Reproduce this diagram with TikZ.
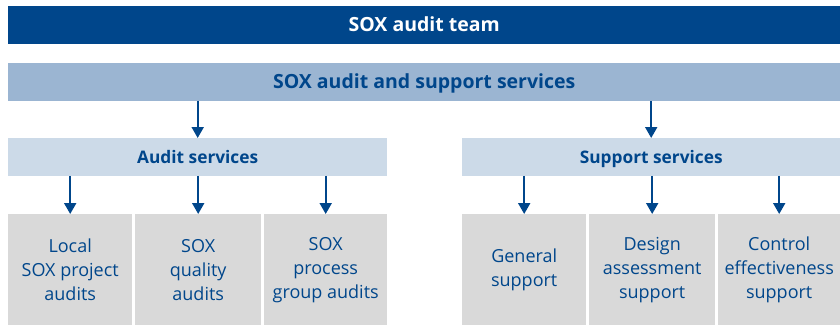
\documentclass[tikz,border=0pt]{standalone}
\usepackage{fontspec}
\setmainfont{Open Sans}
\usetikzlibrary{arrows.meta}
\definecolor{soxdark}{HTML}{00468B}
\definecolor{soxmid}{HTML}{9BB5D2}
\definecolor{soxlight}{HTML}{CCDAE8}
\definecolor{soxgray}{HTML}{D9D9D9}
\tikzset{
  bar/.style={anchor=north west, inner sep=0pt, minimum height=37.5pt, text height=17pt, text depth=3pt, font=\bfseries\fontsize{19.5}{22}\selectfont},
  subbar/.style={bar, fill=soxlight, text=soxdark, font=\bfseries\fontsize{17.3}{20}\selectfont},
  unit/.style={anchor=north west, inner sep=0pt, fill=soxgray, minimum height=111pt, text=soxdark, align=center, font=\fontsize{18}{24}\selectfont},
  down/.style={-{Triangle[width=12pt,length=11pt]}, draw=soxdark, line width=2pt}
}
\begin{document}
\begin{tikzpicture}[x=1pt, y=-1pt]
  \useasboundingbox (0,0) rectangle (840,325);
  \node[bar, fill=soxdark, text=white, minimum width=832pt] (team) at (8,6) {SOX audit team};
  \node[bar, fill=soxmid, text=soxdark, minimum width=832pt] (serv) at (8,63) {SOX audit and support services};
  \node[subbar, minimum width=379pt] (aud) at (8,138) {Audit services};
  \node[subbar, minimum width=378pt] (sup) at (462,138) {Support services};
  % audit units
  \node[unit, minimum width=124pt] (local) at (8,214) {Local\\SOX project\\audits};
  \node[unit, minimum width=126pt] (quality) at (135,214) {SOX\\quality\\audits};
  \node[unit, minimum width=123pt] (process) at (264,214) {SOX\\process\\group audits};
  % support units
  \node[unit, minimum width=124pt] (general) at (462,214) {General\\support};
  \node[unit, minimum width=126pt] (design) at (589,214) {Design\\assessment\\support};
  \node[unit, minimum width=122pt] (control) at (718,214) {Control\\effectiveness\\support};
  \draw[down] (serv.south -| aud.north) -- (aud.north);
  \draw[down] (serv.south -| sup.north) -- (sup.north);
  \foreach \u in {local,quality,process}
    \draw[down] (aud.south -| \u.north) -- (\u.north);
  \foreach \u in {general,design,control}
    \draw[down] (sup.south -| \u.north) -- (\u.north);
\end{tikzpicture}
\end{document}
